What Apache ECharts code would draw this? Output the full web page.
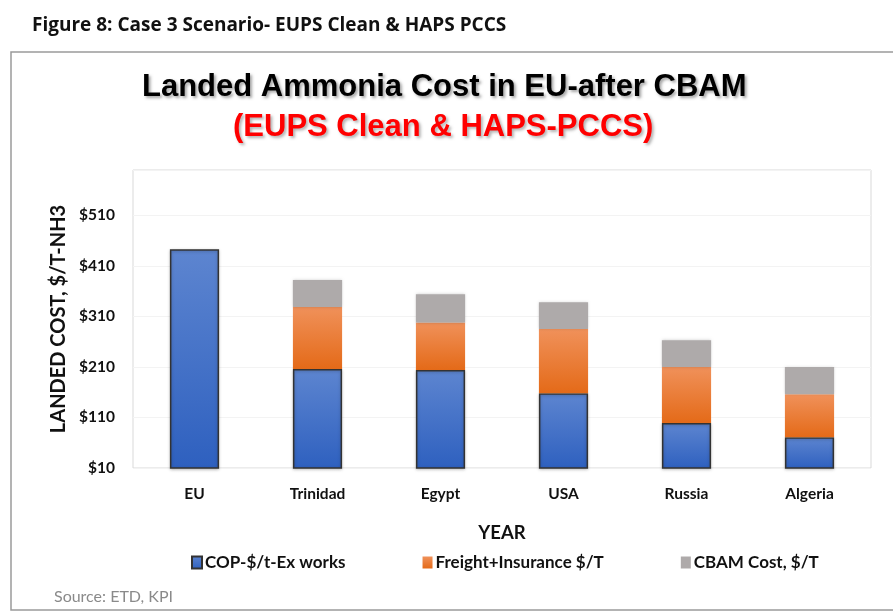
<!DOCTYPE html>
<html>
<head>
<meta charset="utf-8">
<script src="https://cdn.jsdelivr.net/npm/echarts@6/dist/echarts.min.js"></script>
<style>
  html, body { margin: 0; padding: 0; background: #fff; }
  #main { width: 893px; height: 612px; }
</style>
</head>
<body>
<div id="main"></div>
<script>
// data
var categories = ["EU", "Trinidad", "Egypt", "USA", "Russia", "Algeria"];
var copValues = [443, 206, 204, 158, 99, 71];
var freightValues = [null, 123, 94, 127, 111, 85];
var cbamValues = [null, 53, 56, 53, 53, 54];
var seriesNames = ["COP-$/t-Ex works", "Freight+Insurance $/T", "CBAM Cost, $/T"];

var font = "Lato, 'Open Sans', sans-serif";
var titleFont = "'Liberation Sans', Arial, sans-serif";
var myChart = echarts.init(document.getElementById("main"));

function grad(top, bottom) {
  return new echarts.graphic.LinearGradient(0, 0, 0, 1, [
    { offset: 0, color: top },
    { offset: 1, color: bottom }
  ]);
}

var option = {
  backgroundColor: "#fff",
  animation: false,
  graphic: [
    {
      type: "rect",
      shape: { x: 11, y: 52, width: 900, height: 558 },
      style: { fill: "none", stroke: "#9a9a9a", lineWidth: 1.5 },
      z: -1
    }
  ],
  title: [
    {
      text: "Figure 8: Case 3 Scenario- EUPS Clean & HAPS PCCS",
      left: 27, top: 11,
      textStyle: { fontFamily: "'Open Sans', sans-serif", fontWeight: "bold", fontSize: 19, color: "#111" }
    },
    {
      text: "Landed Ammonia Cost in EU-after CBAM",
      left: 137, top: 67,
      textStyle: {
        fontFamily: titleFont, fontWeight: "bold", fontSize: 31,
        color: "#000", textShadowColor: "rgba(0,0,0,0.35)", textShadowBlur: 3,
        textShadowOffsetX: 2, textShadowOffsetY: 2
      }
    },
    {
      text: "(EUPS Clean & HAPS-PCCS)",
      left: 228, top: 107,
      textStyle: {
        fontFamily: titleFont, fontWeight: "bold", fontSize: 31,
        color: "#ff0000", textShadowColor: "rgba(0,0,0,0.3)", textShadowBlur: 3,
        textShadowOffsetX: 2, textShadowOffsetY: 2
      }
    },
    {
      text: "Source: ETD, KPI",
      left: 49, top: 584,
      textStyle: { fontFamily: font, fontWeight: "normal", fontSize: 16, color: "#8a8a8a" }
    }
  ],
  legend: {
    data: seriesNames,
    left: 186, top: 549,
    itemWidth: 10, itemHeight: 12,
    itemGap: 77,
    icon: "rect",
    textStyle: { fontFamily: font, fontWeight: "bold", fontSize: 17, color: "#111", padding: [0, 0, 0, -2] }
  },
  grid: { left: 133, right: 22, top: 170, bottom: 144, show: true, borderColor: "#d9d9d9", borderWidth: 1 },
  xAxis: {
    type: "category",
    data: categories,
    name: "YEAR",
    nameLocation: "middle",
    nameGap: 56,
    nameTextStyle: { fontFamily: font, fontWeight: "bold", fontSize: 18.5, color: "#111" },
    axisLine: { show: false },
    axisTick: { show: false },
    axisLabel: { margin: 18, fontFamily: font, fontWeight: "bold", fontSize: 15.5, color: "#111" }
  },
  yAxis: {
    type: "value",
    min: 10,
    max: 600,
    interval: 100,
    name: "LANDED COST, $/T-NH3",
    nameLocation: "middle",
    nameGap: 63,
    nameRotate: 90,
    nameTextStyle: { fontFamily: font, fontWeight: "bold", fontSize: 20, color: "#111" },
    axisLine: { show: false },
    axisTick: { show: false },
    splitLine: { lineStyle: { color: "#f3f3f3" } },
    axisLabel: {
      margin: 18,
      fontFamily: font, fontWeight: "bold", fontSize: 15.5, color: "#111",
      formatter: function (v) {
        return (v - 10) % 100 === 0 ? "$" + v : "";
      }
    }
  },
  series: [
    {
      name: seriesNames[0],
      type: "bar",
      stack: "total",
      barWidth: "40%",
      data: copValues,
      itemStyle: {
        color: grad("#5d85d0", "#2e60bf"),
        borderColor: "#333",
        borderWidth: 1.5,
        shadowColor: "rgba(0,0,0,0.25)", shadowBlur: 3, shadowOffsetY: 1
      }
    },
    {
      name: seriesNames[1],
      type: "bar",
      stack: "total",
      data: freightValues,
      itemStyle: { color: grad("#f0915a", "#e46a18") }
    },
    {
      name: seriesNames[2],
      type: "bar",
      stack: "total",
      data: cbamValues,
      itemStyle: { color: "#aeaaaa", shadowColor: "rgba(0,0,0,0.2)", shadowBlur: 3 }
    }
  ]
};

myChart.setOption(option);
</script>
</body>
</html>
